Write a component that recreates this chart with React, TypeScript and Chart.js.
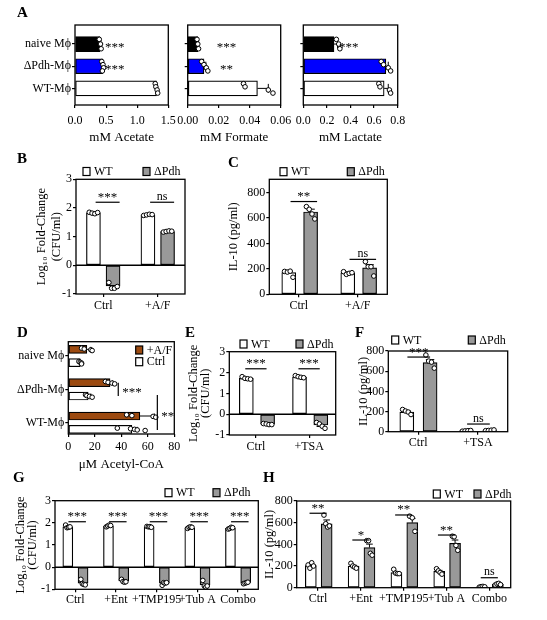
import React, { useEffect, useRef } from 'react';
import { Chart, registerables } from 'chart.js';

Chart.register(...registerables);

const FONT = "'Liberation Serif', 'Times New Roman', Times, serif";
const PAGE_W = 547;
const PAGE_H = 620;

// ---------------- DATA ----------------
// Panel A
const A_CELLS = ['naive Mϕ', 'ΔPdh-Mϕ', 'WT-Mϕ'];
const A_ACETATE = [0.40, 0.445, 1.31];
const A_ACETATE_SEM = [0.015, 0.015, 0.015];
const A_ACETATE_PTS = [[0.39, 0.41, 0.42], [0.43, 0.45, 0.46, 0.44], [1.29, 1.30, 1.32, 1.33]];
const A_ACETATE_SIG = ['***', '***', ''];
const A_ACETATE_SIG_AT = 0.64;
const A_ACETATE_TICKS = [0, 0.5, 1.0, 1.5];

const A_FORMATE = [0.0065, 0.0105, 0.045];
const A_FORMATE_SEM = [0.0005, 0.0012, 0.007];
const A_FORMATE_PTS = [[0.006, 0.0065, 0.007], [0.009, 0.0105, 0.012, 0.013], [0.036, 0.037, 0.052, 0.055]];
const A_FORMATE_SIG = ['***', '**', ''];
const A_FORMATE_SIG_AT = 0.025;
const A_FORMATE_TICKS = [0, 0.02, 0.04, 0.06];

const A_LACTATE = [0.26, 0.70, 0.685];
const A_LACTATE_SEM = [0.03, 0.02, 0.035];
const A_LACTATE_PTS = [[0.28, 0.30, 0.31], [0.66, 0.68, 0.72, 0.74], [0.64, 0.65, 0.73, 0.74]];
const A_LACTATE_SIG = ['***', '', ''];
const A_LACTATE_SIG_AT = 0.385;
const A_LACTATE_TICKS = [0, 0.2, 0.4, 0.6, 0.8];

// Panel B
const B_CATS = ['Ctrl', '+A/F'];
const B_WT = [1.83, 1.76];
const B_WT_SEM = [0.03, 0.02];
const B_WT_PTS = [[1.85, 1.82, 1.8, 1.84], [1.74, 1.76, 1.78, 1.77]];
const B_PDH = [-0.72, 1.18];
const B_PDH_SEM = [0.05, 0.02];
const B_PDH_PTS = [[-0.6, -0.8, -0.8, -0.74], [1.16, 1.18, 1.2, 1.19]];
const B_SIG = ['***', 'ns'];
const B_SIG_AT = [2.2, 2.2];
const LOG_TICKS = [-1, 0, 1, 2, 3];

// Panel C
const C_CATS = ['Ctrl', '+A/F'];
const C_WT = [170, 168];
const C_WT_SEM = [10, 8];
const C_WT_PTS = [[180, 175, 182, 134], [178, 157, 165, 170]];
const C_PDH = [648, 208];
const C_PDH_SEM = [22, 25];
const C_PDH_PTS = [[690, 669, 632, 593], [257, 217, 217, 144]];
const C_SIG = ['**', 'ns'];
const C_SIG_AT = [730, 275];
const IL_TICKS = [0, 200, 400, 600, 800];

// Panel D
const D_CELLS = ['naive Mϕ', 'ΔPdh-Mϕ', 'WT-Mϕ'];
const D_AF = [14, 31.5, 54];
const D_AF_SEM = [3, 2, 11];
const D_AF_PTS = [[10, 12, 17, 18], [28, 30, 33, 35], [44, 48, 64, 66]];
const D_CTRL = [9, 15, 48];
const D_CTRL_SEM = [1, 2, 4];
const D_CTRL_PTS = [[8, 9, 10, 10], [13, 14, 16, 18], [37, 47, 50, 52, 58]];
const D_SIG = ['***', '**'];
const D_SIG_CAT = [1, 2];
const D_SIG_AT = [37.7, 67.2];
const D_TICKS = [0, 20, 40, 60, 80];

// Panel E
const E_CATS = ['Ctrl', '+TSA'];
const E_WT = [1.72, 1.78];
const E_WT_SEM = [0.03, 0.03];
const E_WT_PTS = [[1.8, 1.72, 1.7, 1.68], [1.85, 1.8, 1.77, 1.75]];
const E_PDH = [-0.48, -0.52];
const E_PDH_SEM = [0.02, 0.07];
const E_PDH_PTS = [[-0.45, -0.47, -0.5, -0.5], [-0.4, -0.47, -0.58, -0.68]];
const E_SIG = ['***', '***'];
const E_SIG_AT = [2.18, 2.18];

// Panel F
const F_CATS = ['Ctrl', '+TSA'];
const F_WT = [195, 8];
const F_WT_SEM = [10, 3];
const F_WT_PTS = [[220, 205, 195, 170], [5, 8, 10, 12]];
const F_PDH = [685, 12];
const F_PDH_SEM = [30, 3];
const F_PDH_PTS = [[760, 700, 690, 630], [10, 12, 15, 18]];
const F_SIG = ['***', 'ns'];
const F_SIG_AT = [740, 76];

// Panel G
const G_CATS = ['Ctrl', '+Ent', '+TMP195', '+Tub A', 'Combo'];
const G_WT = [1.82, 1.85, 1.82, 1.78, 1.75];
const G_WT_SEM = [0.05, 0.03, 0.02, 0.03, 0.03];
const G_WT_PTS = [[1.9, 1.78, 1.8, 1.82], [1.82, 1.86, 1.9, 1.88], [1.84, 1.82, 1.83, 1.8], [1.75, 1.8, 1.82, 1.8], [1.72, 1.75, 1.8, 1.78]];
const G_PDH = [-0.72, -0.62, -0.72, -0.8, -0.7];
const G_PDH_SEM = [0.05, 0.03, 0.03, 0.07, 0.02];
const G_PDH_PTS = [[-0.55, -0.75, -0.78, -0.8], [-0.55, -0.65, -0.68, -0.66], [-0.82, -0.7, -0.72, -0.7], [-0.6, -0.85, -0.9, -0.85], [-0.75, -0.72, -0.7, -0.68]];
const G_SIG = ['***', '***', '***', '***', '***'];
const G_SIG_AT = [2.05, 2.05, 2.05, 2.05, 2.05];

// Panel H
const H_CATS = ['Ctrl', '+Ent', '+TMP195', '+Tub A', 'Combo'];
const H_WT = [205, 199, 140, 150, 8];
const H_WT_SEM = [12, 8, 8, 10, 3];
const H_WT_PTS = [[210, 180, 230, 200], [225, 200, 190, 180], [170, 135, 130, 130], [175, 155, 140, 125], [5, 10, 12, 8]];
const H_PDH = [590, 370, 600, 410, 30];
const H_PDH_SEM = [35, 32, 40, 30, 5];
const H_PDH_PTS = [[670, 590, 560, 570], [434, 434, 317, 300], [660, 645, 520], [475, 470, 390, 345], [25, 35, 40, 28]];
const H_SIG = ['**', '*', '**', '**', 'ns'];
const H_SIG_AT = [687, 440, 671, 486, 92];

const SERIES_LABELS = ['WT', 'ΔPdh'];
const D_LABELS = ['+A/F', 'Ctrl'];
const LOG_TITLE = ['Log₁₀ Fold-Change', '(CFU/ml)'];
const IL_TITLE = ['IL-10 (pg/ml)'];

// ---------------- STYLE ----------------
const WHITE = '#ffffff';
const GRAY = '#999999';
const BROWN = '#9c4a10';
const A_FILLS = ['#000000', '#0000ff', '#ffffff'];

type Series = { label: string; values: number[]; sem: number[]; pts: number[][]; fill: string | string[]; offset: number };
type Sig = { cat: number; at: number; text: string; span: [number, number] };
type Spec = {
  horiz: boolean;
  area: [number, number, number, number];
  cats: string[];
  showCats: boolean;
  catRange: [number, number];
  valRange: [number, number];
  valTicks: number[];
  dec: number;
  series: Series[];
  thick: number;
  zero?: boolean;
  sigs: Sig[];
  sigLine: boolean;
  legend?: { x: number; y: number }[];
  yTitle?: string[];
  yTitleLH?: number;
  xTitle?: string;
  left: number;
  bottom: number;
  catPad: number;
  valPad: number;
};

function sigList(texts: string[], at: number[] | number, span: [number, number], cats?: number[]): Sig[] {
  return texts.map((t, i) => ({
    cat: cats ? cats[i] : i,
    at: Array.isArray(at) ? at[i] : at,
    text: t,
    span,
  }));
}

function pair(labels: string[], a: [number[], number[], number[][]], b: [number[], number[], number[][]], fills: string[], offs: [number, number]): Series[] {
  return [
    { label: labels[0], values: a[0], sem: a[1], pts: a[2], fill: fills[0], offset: offs[0] },
    { label: labels[1], values: b[0], sem: b[1], pts: b[2], fill: fills[1], offset: offs[1] },
  ];
}

const SPECS: Spec[] = [
  // A1
  {
    horiz: true, area: [75, 25, 168.3, 105], cats: A_CELLS, showCats: true, catRange: [-0.86, 2.75],
    valRange: [0, 1.5], valTicks: A_ACETATE_TICKS, dec: 1,
    series: [{ label: 'Acetate', values: A_ACETATE, sem: A_ACETATE_SEM, pts: A_ACETATE_PTS, fill: A_FILLS, offset: 0 }],
    thick: 15, sigs: sigList(A_ACETATE_SIG, A_ACETATE_SIG_AT, [0, 0]), sigLine: false,
    xTitle: 'mM Acetate', left: 0, bottom: 145, catPad: 1, valPad: 6,
  },
  // A2
  {
    horiz: true, area: [187.7, 25, 280.7, 105], cats: A_CELLS, showCats: false, catRange: [-0.86, 2.75],
    valRange: [0, 0.06], valTicks: A_FORMATE_TICKS, dec: 2,
    series: [{ label: 'Formate', values: A_FORMATE, sem: A_FORMATE_SEM, pts: A_FORMATE_PTS, fill: A_FILLS, offset: 0 }],
    thick: 15, sigs: sigList(A_FORMATE_SIG, A_FORMATE_SIG_AT, [0, 0]), sigLine: false,
    xTitle: 'mM Formate', left: 150, bottom: 145, catPad: 1, valPad: 6,
  },
  // A3
  {
    horiz: true, area: [303.3, 25, 397.7, 105], cats: A_CELLS, showCats: false, catRange: [-0.86, 2.75],
    valRange: [0, 0.8], valTicks: A_LACTATE_TICKS, dec: 1,
    series: [{ label: 'Lactate', values: A_LACTATE, sem: A_LACTATE_SEM, pts: A_LACTATE_PTS, fill: A_FILLS, offset: 0 }],
    thick: 15, sigs: sigList(A_LACTATE_SIG, A_LACTATE_SIG_AT, [0, 0]), sigLine: false,
    xTitle: 'mM Lactate', left: 270, bottom: 145, catPad: 1, valPad: 6,
  },
  // B
  {
    horiz: false, area: [76, 179.3, 185, 294], cats: B_CATS, showCats: true, catRange: [-0.5, 1.5],
    valRange: [-1, 3], valTicks: LOG_TICKS, dec: 0,
    series: pair(SERIES_LABELS, [B_WT, B_WT_SEM, B_WT_PTS], [B_PDH, B_PDH_SEM, B_PDH_PTS], [WHITE, GRAY], [-0.18, 0.18]),
    thick: 14, zero: true, sigs: sigList(B_SIG, B_SIG_AT, [-0.14, 0.3]), sigLine: true,
    legend: [{ x: 83, y: 171.5 }, { x: 143, y: 171.5 }],
    yTitle: LOG_TITLE, yTitleLH: 15, left: 34.5, bottom: 320, catPad: 1.5, valPad: 1,
  },
  // C
  {
    horiz: false, area: [269.3, 179.3, 387.3, 294.3], cats: C_CATS, showCats: true, catRange: [-0.5, 1.5],
    valRange: [0, 905], valTicks: IL_TICKS, dec: 0,
    series: pair(SERIES_LABELS, [C_WT, C_WT_SEM, C_WT_PTS], [C_PDH, C_PDH_SEM, C_PDH_PTS], [WHITE, GRAY], [-0.17, 0.2]),
    thick: 14, sigs: sigList(C_SIG, C_SIG_AT, [-0.14, 0.31]), sigLine: true,
    legend: [{ x: 280, y: 171.7 }, { x: 347.3, y: 171.7 }],
    yTitle: IL_TITLE, yTitleLH: 14, left: 226.3, bottom: 320, catPad: 1.5, valPad: 1,
  },
  // D
  {
    horiz: true, area: [68.3, 341.7, 174.3, 434], cats: D_CELLS, showCats: true, catRange: [-0.43, 2.34],
    valRange: [0, 80], valTicks: D_TICKS, dec: 0,
    series: pair(D_LABELS, [D_AF, D_AF_SEM, D_AF_PTS], [D_CTRL, D_CTRL_SEM, D_CTRL_PTS], [BROWN, WHITE], [-0.2, 0.2]),
    thick: 8, sigs: [
      { cat: D_SIG_CAT[0], at: D_SIG_AT[0], text: D_SIG[0], span: [-0.2, 0.2] },
      { cat: D_SIG_CAT[1], at: D_SIG_AT[1], text: D_SIG[1], span: [-0.83, 0.22] },
    ], sigLine: true,
    legend: [{ x: 135.7, y: 350 }, { x: 135.7, y: 361.7 }],
    xTitle: 'μM Acetyl-CoA', left: 0, bottom: 472, catPad: 1, valPad: 3,
  },
  // E
  {
    horiz: false, area: [229.3, 351.7, 335.7, 435], cats: E_CATS, showCats: true, catRange: [-0.5, 1.5],
    valRange: [-1, 3], valTicks: LOG_TICKS, dec: 0,
    series: pair(SERIES_LABELS, [E_WT, E_WT_SEM, E_WT_PTS], [E_PDH, E_PDH_SEM, E_PDH_PTS], [WHITE, GRAY], [-0.18, 0.22]),
    thick: 14, zero: true, sigs: sigList(E_SIG, E_SIG_AT, [-0.2, 0.2]), sigLine: true,
    legend: [{ x: 240, y: 344 }, { x: 296, y: 344 }],
    yTitle: LOG_TITLE, yTitleLH: 12, left: 188, bottom: 460, catPad: 1.5, valPad: 1,
  },
  // F
  {
    horiz: false, area: [388.3, 351, 507.7, 431.7], cats: F_CATS, showCats: true, catRange: [-0.5, 1.5],
    valRange: [0, 800], valTicks: IL_TICKS, dec: 0,
    series: pair(SERIES_LABELS, [F_WT, F_WT_SEM, F_WT_PTS], [F_PDH, F_PDH_SEM, F_PDH_PTS], [WHITE, GRAY], [-0.19, 0.2]),
    thick: 14, sigs: sigList(F_SIG, F_SIG_AT, [-0.18, 0.2]), sigLine: true,
    legend: [{ x: 391.7, y: 340 }, { x: 468.3, y: 340 }],
    yTitle: IL_TITLE, yTitleLH: 14, left: 356.3, bottom: 460, catPad: 0.5, valPad: 1,
  },
  // G
  {
    horiz: false, area: [55, 500.7, 258.3, 589.3], cats: G_CATS, showCats: true, catRange: [-0.5, 4.5],
    valRange: [-1, 3], valTicks: LOG_TICKS, dec: 0,
    series: pair(SERIES_LABELS, [G_WT, G_WT_SEM, G_WT_PTS], [G_PDH, G_PDH_SEM, G_PDH_PTS], [WHITE, GRAY], [-0.185, 0.19]),
    thick: 10, zero: true, sigs: sigList(G_SIG, G_SIG_AT, [-0.17, 0.26]), sigLine: true,
    legend: [{ x: 165, y: 492.7 }, { x: 213, y: 492.7 }],
    yTitle: LOG_TITLE, yTitleLH: 12, left: 15, bottom: 615, catPad: 0.5, valPad: 1,
  },
  // H
  {
    horiz: false, area: [296.7, 501, 510.7, 587.7], cats: H_CATS, showCats: true, catRange: [-0.5, 4.5],
    valRange: [0, 800], valTicks: IL_TICKS, dec: 0,
    series: pair(SERIES_LABELS, [H_WT, H_WT_SEM, H_WT_PTS], [H_PDH, H_PDH_SEM, H_PDH_PTS], [WHITE, GRAY], [-0.17, 0.2]),
    thick: 11, sigs: sigList(H_SIG, H_SIG_AT, [-0.2, 0.2]), sigLine: true,
    legend: [{ x: 433.3, y: 494 }, { x: 474, y: 494 }],
    yTitle: IL_TITLE, yTitleLH: 14, left: 263, bottom: 615, catPad: 0.5, valPad: 1,
  },
];

const PANEL_LETTERS = [
  { t: 'A', x: 17, y: 4.5 },
  { t: 'B', x: 17, y: 150.5 },
  { t: 'C', x: 228, y: 154.5 },
  { t: 'D', x: 17, y: 324.5 },
  { t: 'E', x: 185, y: 324.5 },
  { t: 'F', x: 355, y: 324.5 },
  { t: 'G', x: 13, y: 469.5 },
  { t: 'H', x: 263, y: 469.5 },
];

const PT_R = 2.3;

function buildConfig(sp: Spec): any {
  const [L, T, R, B] = sp.area;
  const catLen = sp.horiz ? B - T : R - L;
  const pxPerCat = catLen / (sp.catRange[1] - sp.catRange[0]);

  const datasets: any[] = [];
  sp.series.forEach((s) => {
    datasets.push({
      type: 'bar',
      label: s.label,
      data: s.values.map((v, i) => (sp.horiz ? { x: v, y: i + s.offset } : { x: i + s.offset, y: v })),
      backgroundColor: s.fill,
      borderColor: '#000',
      borderWidth: 1.2,
      borderSkipped: false,
      barThickness: sp.thick,
      grouped: false,
      order: 2,
    });
  });
  sp.series.forEach((s) => {
    const pts: any[] = [];
    const span = Math.max(0, sp.thick - 2 * PT_R - 1);
    s.pts.forEach((arr, i) => {
      const n = arr.length;
      arr.forEach((v, j) => {
        const d = n > 1 ? (j / (n - 1) - 0.5) * span : 0;
        const c = i + s.offset + d / pxPerCat;
        pts.push(sp.horiz ? { x: v, y: c } : { x: c, y: v });
      });
    });
    datasets.push({
      type: 'scatter',
      label: s.label + ' points',
      data: pts,
      pointRadius: PT_R,
      pointHoverRadius: PT_R,
      pointBackgroundColor: '#fff',
      pointBorderColor: '#000',
      pointBorderWidth: 1,
      showLine: false,
      order: 1,
    });
  });

  const tickFont = { family: FONT, size: 12 };
  const grid = {
    display: true, drawOnChartArea: false, offset: false, drawTicks: true,
    tickLength: 3, tickWidth: 1.2, tickColor: '#000', color: '#000', lineWidth: 1.2,
  };
  const catAxis: any = {
    type: 'linear', bounds: 'data', min: sp.catRange[0], max: sp.catRange[1], reverse: sp.horiz, offset: false,
    position: sp.horiz ? 'left' : 'bottom',
    border: { display: false },
    grid,
    ticks: {
      color: '#000', font: tickFont, padding: sp.catPad, autoSkip: false, maxRotation: 0, minRotation: 0,
      callback: (v: number) => (sp.showCats ? sp.cats[Math.round(v)] ?? '' : ''),
    },
    afterBuildTicks: (s: any) => { s.ticks = sp.cats.map((_, i) => ({ value: i })); },
  };
  const valAxis: any = {
    type: 'linear', bounds: 'data', min: sp.valRange[0], max: sp.valRange[1], offset: false,
    position: sp.horiz ? 'bottom' : 'left',
    border: { display: false },
    grid,
    ticks: {
      color: '#000', font: tickFont, padding: sp.valPad, autoSkip: false, maxRotation: 0, minRotation: 0,
      callback: (v: number) => Number(v).toFixed(sp.dec),
    },
    afterBuildTicks: (s: any) => { s.ticks = sp.valTicks.map((v) => ({ value: v })); },
  };
  const yAxis = sp.horiz ? catAxis : valAxis;
  const xAxis = sp.horiz ? valAxis : catAxis;
  yAxis.afterFit = (s: any) => { s.width = L - sp.left; };
  xAxis.afterFit = (s: any) => { s.height = sp.bottom - B; };
  if (sp.yTitle) {
    yAxis.title = {
      display: true, text: sp.yTitle.length === 1 ? sp.yTitle[0] : sp.yTitle, color: '#000', padding: 0,
      font: { family: FONT, size: 12.5, lineHeight: `${sp.yTitleLH}px` },
    };
  }
  if (sp.xTitle) {
    xAxis.title = {
      display: true, text: sp.xTitle, color: '#000', padding: 0,
      font: { family: FONT, size: 13, lineHeight: '14px' },
    };
  }

  const deco = {
    id: 'deco',
    beforeDatasetsDraw(chart: any) {
      if (!sp.zero) return;
      const { ctx, chartArea: a } = chart;
      const y = chart.scales.y.getPixelForValue(0);
      ctx.save();
      ctx.strokeStyle = '#000';
      ctx.lineWidth = 1.5;
      ctx.beginPath();
      ctx.moveTo(a.left, y);
      ctx.lineTo(a.right, y);
      ctx.stroke();
      ctx.restore();
    },
    afterDatasetDraw(chart: any, args: any) {
      const ds = chart.data.datasets[args.index];
      if (ds.type !== 'bar') return;
      const s = sp.series[args.index];
      const valScale = sp.horiz ? chart.scales.x : chart.scales.y;
      const ctx = chart.ctx;
      const cap = Math.max(2.5, sp.thick * 0.3);
      ctx.save();
      ctx.strokeStyle = '#000';
      ctx.lineWidth = 1;
      args.meta.data.forEach((el: any, i: number) => {
        const v = s.values[i];
        const e = s.sem[i];
        if (!e) return;
        const sign = v < 0 ? -1 : 1;
        const p1 = valScale.getPixelForValue(v);
        const p2 = valScale.getPixelForValue(v + sign * e);
        const c = sp.horiz ? el.y : el.x;
        ctx.beginPath();
        if (sp.horiz) {
          ctx.moveTo(p1, c); ctx.lineTo(p2, c);
          ctx.moveTo(p2, c - cap); ctx.lineTo(p2, c + cap);
        } else {
          ctx.moveTo(c, p1); ctx.lineTo(c, p2);
          ctx.moveTo(c - cap, p2); ctx.lineTo(c + cap, p2);
        }
        ctx.stroke();
      });
      ctx.restore();
    },
    afterDraw(chart: any) {
      const { ctx, chartArea: a } = chart;
      const xs = chart.scales.x;
      const ys = chart.scales.y;
      ctx.save();
      ctx.strokeStyle = '#000';
      ctx.lineWidth = 1.3;
      ctx.strokeRect(a.left, a.top, a.right - a.left, a.bottom - a.top);
      // significance
      ctx.fillStyle = '#000';
      ctx.lineWidth = 1.2;
      sp.sigs.forEach((g) => {
        if (!g.text) return;
        ctx.font = `${g.text === 'ns' ? 12 : 13}px ${FONT}`;
        if (!sp.horiz) {
          const xa = xs.getPixelForValue(g.cat + g.span[0]);
          const xb = xs.getPixelForValue(g.cat + g.span[1]);
          const y = ys.getPixelForValue(g.at);
          ctx.beginPath(); ctx.moveTo(xa, y); ctx.lineTo(xb, y); ctx.stroke();
          ctx.textAlign = 'center'; ctx.textBaseline = 'alphabetic';
          ctx.fillText(g.text, (xa + xb) / 2, y - (g.text === 'ns' ? 2.5 : 1.5));
        } else if (sp.sigLine) {
          const x = xs.getPixelForValue(g.at);
          const ya = ys.getPixelForValue(g.cat + g.span[0]);
          const yb = ys.getPixelForValue(g.cat + g.span[1]);
          ctx.beginPath(); ctx.moveTo(x, ya); ctx.lineTo(x, yb); ctx.stroke();
          ctx.textAlign = 'left'; ctx.textBaseline = 'alphabetic';
          ctx.fillText(g.text, x + 4, (ya + yb) / 2 + 7);
        } else {
          const x = xs.getPixelForValue(g.at);
          const y = ys.getPixelForValue(g.cat);
          ctx.textAlign = 'center'; ctx.textBaseline = 'alphabetic';
          ctx.fillText(g.text, x, y + 7);
        }
      });
      // legend
      if (sp.legend) {
        ctx.font = `12px ${FONT}`;
        ctx.textAlign = 'left';
        ctx.textBaseline = 'middle';
        sp.legend.forEach((p, i) => {
          const s = sp.series[i];
          ctx.fillStyle = typeof s.fill === 'string' ? s.fill : s.fill[0];
          ctx.fillRect(p.x, p.y - 4, 7, 8);
          ctx.strokeStyle = '#000';
          ctx.lineWidth = 1.2;
          ctx.strokeRect(p.x, p.y - 4, 7, 8);
          ctx.fillStyle = '#000';
          ctx.fillText(s.label, p.x + 11, p.y + 0.5);
        });
      }
      ctx.restore();
    },
  };

  return {
    type: 'bar',
    data: { datasets },
    options: {
      animation: false,
      responsive: false,
      maintainAspectRatio: false,
      indexAxis: sp.horiz ? 'y' : 'x',
      layout: { padding: { left: sp.left, top: T, right: PAGE_W - R, bottom: PAGE_H - sp.bottom } },
      plugins: { legend: { display: false }, tooltip: { enabled: false }, title: { display: false } },
      events: [],
      scales: { x: xAxis, y: yAxis },
    },
    plugins: [deco],
  };
}

function Panel({ spec }: { spec: Spec }) {
  const ref = useRef<HTMLCanvasElement>(null);
  useEffect(() => {
    if (!ref.current) return;
    const chart = new Chart(ref.current, buildConfig(spec));
    return () => chart.destroy();
  }, [spec]);
  return (
    <canvas
      ref={ref}
      width={PAGE_W}
      height={PAGE_H}
      style={{ position: 'absolute', left: 0, top: 0, width: PAGE_W, height: PAGE_H }}
    />
  );
}

export default function App() {
  return (
    <div style={{ position: 'absolute', left: 0, top: 0, width: PAGE_W, height: PAGE_H, background: '#fff', overflow: 'hidden' }}>
      {SPECS.map((s, i) => (
        <Panel key={i} spec={s} />
      ))}
      {PANEL_LETTERS.map((p) => (
        <div
          key={p.t}
          style={{
            position: 'absolute', left: p.x, top: p.y, fontFamily: FONT, fontWeight: 'bold',
            fontSize: 15, lineHeight: '15px', color: '#000',
          }}
        >
          {p.t}
        </div>
      ))}
    </div>
  );
}
